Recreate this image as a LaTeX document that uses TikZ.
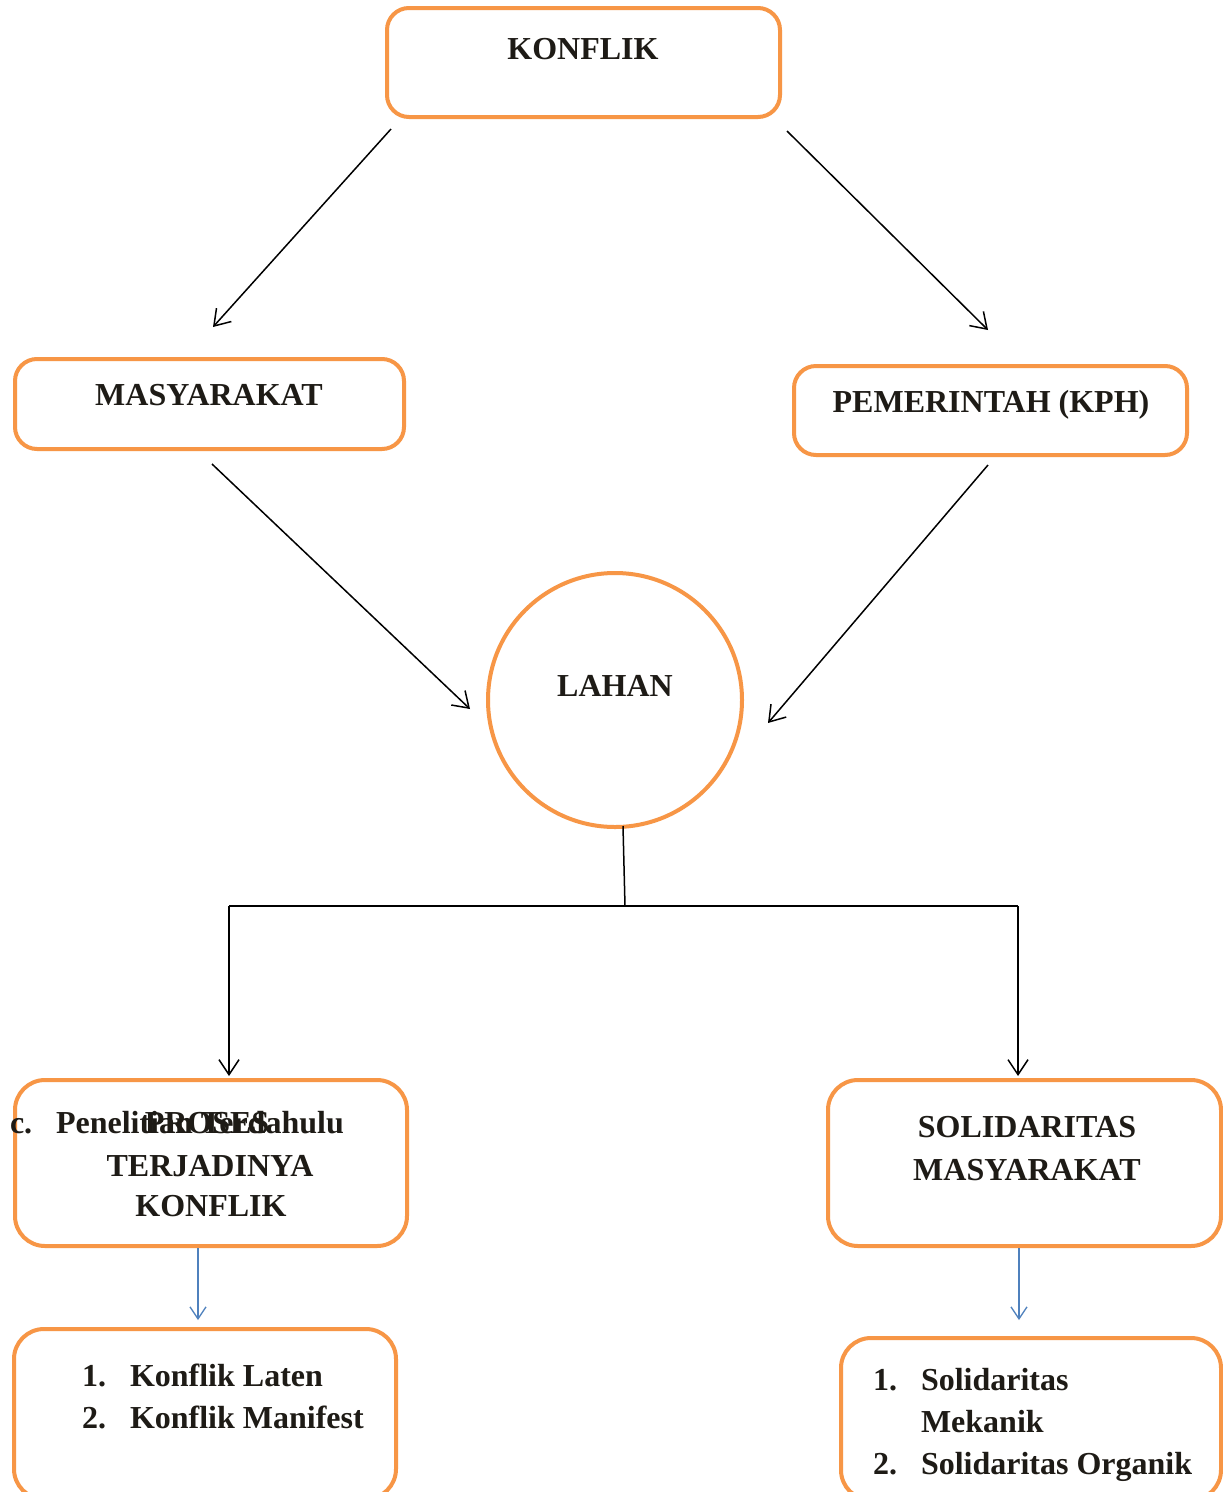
\documentclass[tikz,border=0pt]{standalone}
\usepackage{fontspec}
\setmainfont{Liberation Serif}
\usetikzlibrary{arrows.meta}
\definecolor{boxorange}{HTML}{F79646}
\definecolor{arrowblue}{HTML}{4F81BD}
\definecolor{inkdark}{HTML}{1E1B16}
\begin{document}
\begin{tikzpicture}[x=1pt,y=-1pt,
  box/.style={draw=boxorange, line width=4pt, rounded corners=22pt, inner sep=0pt, outer sep=0pt},
  txt/.style={text=inkdark, font=\bfseries\fontsize{32}{38}\selectfont, inner sep=0pt, outer sep=0pt},
  arr/.style={draw=black, line width=1.5pt, -{Straight Barb[length=15pt,width=20pt,line width=1.5pt]}},
  barr/.style={draw=arrowblue, line width=1.3pt, -{Straight Barb[length=12pt,width=16pt,line width=1.3pt]}},
  ln/.style={draw=black, line width=1.5pt}]
\clip (0,0) rectangle (1223,1492);
\fill[white] (0,0) rectangle (1223,1492);

% boxes
\node[box, minimum width=393pt, minimum height=109pt] (konflikbox) at (583.5,62.5) {};
\node[box, minimum width=389pt, minimum height=90pt] (masbox) at (209.5,404) {};
\node[box, minimum width=393pt, minimum height=89pt] (pembox) at (990.5,410.5) {};
\node[draw=boxorange, line width=4pt, circle, minimum size=254pt, inner sep=0pt] (lahan) at (615,700) {};
\node[box, rounded corners=30pt, minimum width=392pt, minimum height=166pt] (prosesbox) at (211,1163) {};
\node[box, rounded corners=30pt, minimum width=393pt, minimum height=166pt] (solbox) at (1024.5,1163) {};
\node[box, rounded corners=30pt, minimum width=382pt, minimum height=170pt] (latenbox) at (205,1414) {};
\node[box, rounded corners=30pt, minimum width=380pt, minimum height=162pt] (organikbox) at (1031,1419) {};

% texts
\node[txt, anchor=base] (tkonflik) at (583,59) {KONFLIK};
\node[txt, anchor=base] (tmas) at (209,405) {MASYARAKAT};
\node[txt, anchor=base] (tpem) at (991,412) {PEMERINTAH (KPH)};
\node[txt, anchor=base] (tlahan) at (615,696) {LAHAN};
\node[txt, anchor=base] (tp1) at (207,1133) {PROSES};
\node[txt, anchor=base] (tp2) at (210,1176) {TERJADINYA};
\node[txt, anchor=base] (tp3) at (211,1216) {KONFLIK};
\node[txt, anchor=base west] (tc) at (10,1133) {c.};
\node[txt, anchor=base west] (tpen) at (56,1133) {Penelitian Terdahulu};
\node[txt, anchor=base] (ts1) at (1027,1137) {SOLIDARITAS};
\node[txt, anchor=base] (ts2) at (1027,1180) {MASYARAKAT};
\node[txt, anchor=base west] (tn1) at (82,1386) {1.};
\node[txt, anchor=base west] (tl1) at (130,1386) {Konflik Laten};
\node[txt, anchor=base west] (tn2) at (82,1428) {2.};
\node[txt, anchor=base west] (tl2) at (130,1428) {Konflik Manifest};
\node[txt, anchor=base west] (tm1) at (873,1390) {1.};
\node[txt, anchor=base west] (to1) at (921,1390) {Solidaritas};
\node[txt, anchor=base west] (to1b) at (921,1432) {Mekanik};
\node[txt, anchor=base west] (tm2) at (873,1474) {2.};
\node[txt, anchor=base west] (to2) at (921,1474) {Solidaritas Organik};

% connector ends
\coordinate (k1) at (391,129);
\coordinate (m1) at (213,327);
\coordinate (k2) at (787,131);
\coordinate (p1) at (988,330);
\coordinate (m2) at (212,464);
\coordinate (l1) at (470,709);
\coordinate (p2) at (988,465);
\coordinate (l2) at (768,723);
\coordinate (lb) at (623,826);
\coordinate (jn) at (625,906);
\coordinate (jl) at (229,906);
\coordinate (jr) at (1018,906);
\coordinate (pt) at (229,1076);
\coordinate (st) at (1018,1076);
\coordinate (pb) at (198,1248);
\coordinate (lt) at (198,1320);
\coordinate (sb) at (1019,1248);
\coordinate (ot) at (1019,1320);

\draw[arr] (k1) -- (m1);
\draw[arr] (k2) -- (p1);
\draw[arr] (m2) -- (l1);
\draw[arr] (p2) -- (l2);
\draw[ln] (lb) -- (jn);
\draw[ln] (jl) -- (jr);
\draw[arr] (jl) -- (pt);
\draw[arr] (jr) -- (st);
\draw[barr] (pb) -- (lt);
\draw[barr] (sb) -- (ot);
\end{tikzpicture}
\end{document}
